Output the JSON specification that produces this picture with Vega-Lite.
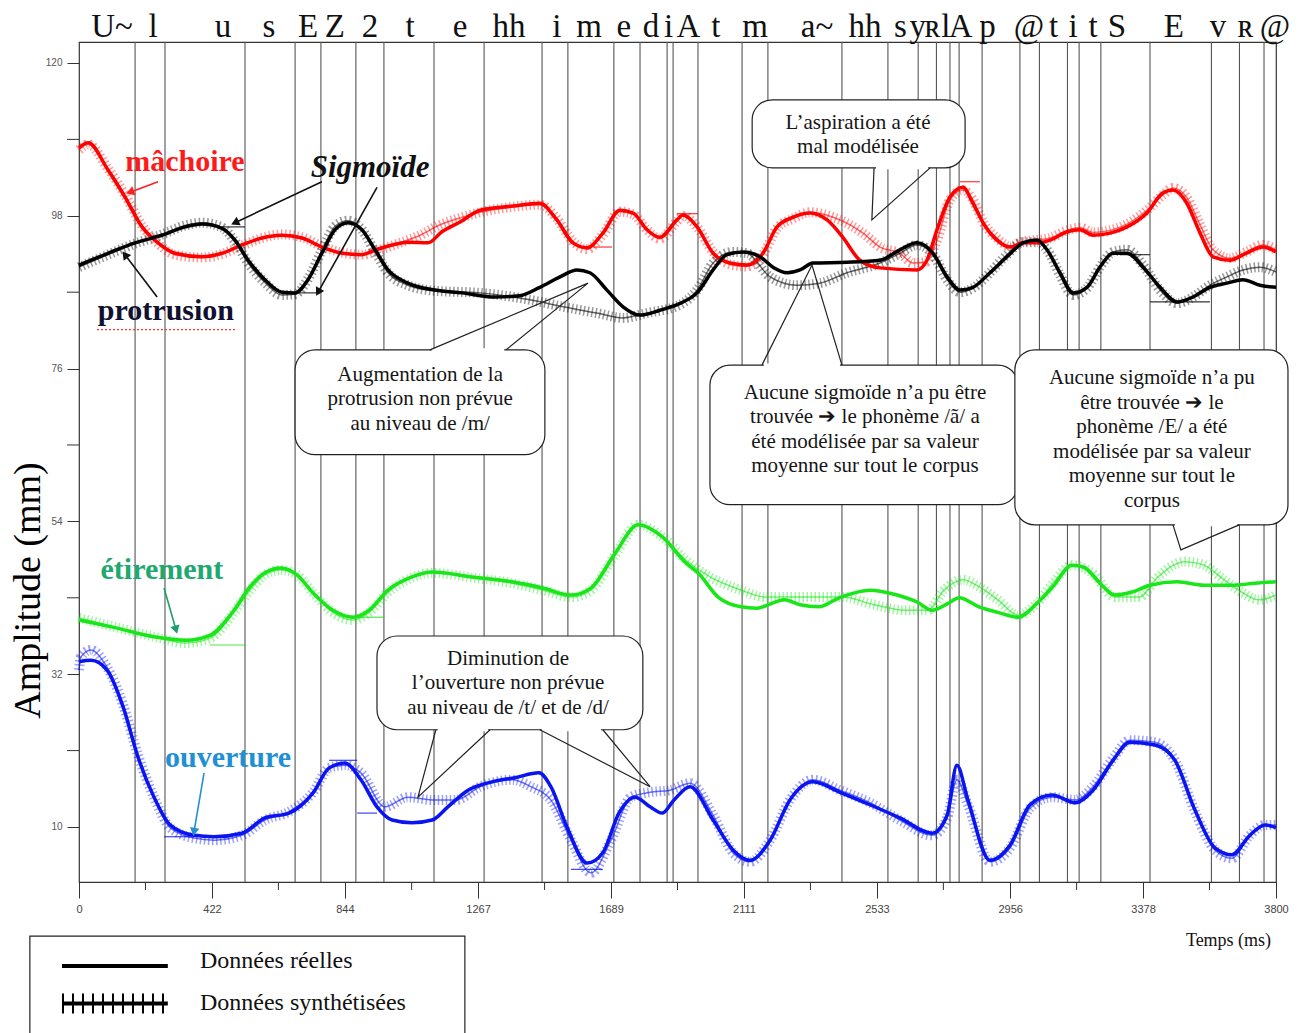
{
"$schema":"https://vega.github.io/schema/vega-lite/v6.json",
"width":1197,"height":840,
"autosize":{"type":"none"},
"padding":{"left":79,"top":42,"right":26,"bottom":151},
"background":"white",
"config":{"view":{"stroke":"#333","strokeWidth":1.2},"font":"Liberation Serif","axis":{"grid":false,"domain":false}},
"resolve":{"scale":{"color":"independent"}},
"datasets":{
"curves":[
{"s":"m","k":"r","t":0,"v":107.8},{"s":"m","k":"r","t":29,"v":108.5},{"s":"m","k":"r","t":92,"v":104.6},{"s":"m","k":"r","t":146,"v":100.7},{"s":"m","k":"r","t":200,"v":96.4},{"s":"m","k":"r","t":251,"v":94.1},{"s":"m","k":"r","t":305,"v":92.6},{"s":"m","k":"r","t":390,"v":92.1},{"s":"m","k":"r","t":454,"v":92.6},{"s":"m","k":"r","t":517,"v":93.8},{"s":"m","k":"r","t":581,"v":94.8},{"s":"m","k":"r","t":644,"v":95.2},{"s":"m","k":"r","t":708,"v":94.8},{"s":"m","k":"r","t":771,"v":93.5},{"s":"m","k":"r","t":835,"v":92.6},{"s":"m","k":"r","t":898,"v":92.4},{"s":"m","k":"r","t":940,"v":93.1},{"s":"m","k":"r","t":994,"v":93.8},{"s":"m","k":"r","t":1044,"v":94.2},{"s":"m","k":"r","t":1108,"v":94.1},{"s":"m","k":"r","t":1152,"v":95.7},{"s":"m","k":"r","t":1210,"v":97.1},{"s":"m","k":"r","t":1273,"v":98.8},{"s":"m","k":"r","t":1378,"v":99.4},{"s":"m","k":"r","t":1463,"v":99.8},{"s":"m","k":"r","t":1517,"v":97.4},{"s":"m","k":"r","t":1568,"v":94.1},{"s":"m","k":"r","t":1613,"v":93.4},{"s":"m","k":"r","t":1663,"v":95.5},{"s":"m","k":"r","t":1717,"v":98.8},{"s":"m","k":"r","t":1759,"v":98.4},{"s":"m","k":"r","t":1803,"v":96.0},{"s":"m","k":"r","t":1844,"v":94.9},{"s":"m","k":"r","t":1898,"v":97.4},{"s":"m","k":"r","t":1917,"v":98.1},{"s":"m","k":"r","t":1962,"v":96.4},{"s":"m","k":"r","t":2013,"v":92.6},{"s":"m","k":"r","t":2067,"v":91.2},{"s":"m","k":"r","t":2121,"v":90.9},{"s":"m","k":"r","t":2171,"v":92.6},{"s":"m","k":"r","t":2216,"v":96.4},{"s":"m","k":"r","t":2267,"v":97.8},{"s":"m","k":"r","t":2321,"v":98.4},{"s":"m","k":"r","t":2375,"v":97.4},{"s":"m","k":"r","t":2425,"v":94.9},{"s":"m","k":"r","t":2479,"v":91.6},{"s":"m","k":"r","t":2543,"v":90.5},{"s":"m","k":"r","t":2660,"v":90.2},{"s":"m","k":"r","t":2692,"v":91.6},{"s":"m","k":"r","t":2724,"v":96.0},{"s":"m","k":"r","t":2765,"v":100.7},{"s":"m","k":"r","t":2806,"v":102.1},{"s":"m","k":"r","t":2838,"v":99.8},{"s":"m","k":"r","t":2870,"v":97.0},{"s":"m","k":"r","t":2914,"v":94.5},{"s":"m","k":"r","t":2956,"v":93.5},{"s":"m","k":"r","t":2997,"v":94.1},{"s":"m","k":"r","t":3041,"v":94.1},{"s":"m","k":"r","t":3083,"v":94.5},{"s":"m","k":"r","t":3137,"v":95.7},{"s":"m","k":"r","t":3178,"v":96.0},{"s":"m","k":"r","t":3219,"v":95.2},{"s":"m","k":"r","t":3273,"v":95.5},{"s":"m","k":"r","t":3327,"v":96.4},{"s":"m","k":"r","t":3390,"v":98.4},{"s":"m","k":"r","t":3441,"v":101.3},{"s":"m","k":"r","t":3473,"v":101.7},{"s":"m","k":"r","t":3517,"v":99.8},{"s":"m","k":"r","t":3559,"v":95.5},{"s":"m","k":"r","t":3600,"v":92.1},{"s":"m","k":"r","t":3654,"v":91.6},{"s":"m","k":"r","t":3705,"v":92.6},{"s":"m","k":"r","t":3759,"v":93.5},{"s":"m","k":"r","t":3800,"v":92.8},
{"s":"m","k":"s","t":0,"v":107.5},{"s":"m","k":"s","t":29,"v":108.3},{"s":"m","k":"s","t":92,"v":104.8},{"s":"m","k":"s","t":146,"v":101.0},{"s":"m","k":"s","t":200,"v":96.6},{"s":"m","k":"s","t":251,"v":94.0},{"s":"m","k":"s","t":305,"v":92.4},{"s":"m","k":"s","t":390,"v":92.0},{"s":"m","k":"s","t":454,"v":92.5},{"s":"m","k":"s","t":517,"v":93.7},{"s":"m","k":"s","t":581,"v":94.8},{"s":"m","k":"s","t":644,"v":95.3},{"s":"m","k":"s","t":708,"v":94.9},{"s":"m","k":"s","t":771,"v":93.6},{"s":"m","k":"s","t":835,"v":92.7},{"s":"m","k":"s","t":898,"v":92.4},{"s":"m","k":"s","t":956,"v":93.1},{"s":"m","k":"s","t":1019,"v":94.1},{"s":"m","k":"s","t":1083,"v":95.2},{"s":"m","k":"s","t":1146,"v":96.7},{"s":"m","k":"s","t":1210,"v":97.7},{"s":"m","k":"s","t":1273,"v":98.5},{"s":"m","k":"s","t":1378,"v":99.3},{"s":"m","k":"s","t":1463,"v":99.6},{"s":"m","k":"s","t":1517,"v":97.6},{"s":"m","k":"s","t":1568,"v":94.3},{"s":"m","k":"s","t":1613,"v":93.2},{"s":"m","k":"s","t":1663,"v":95.3},{"s":"m","k":"s","t":1717,"v":98.6},{"s":"m","k":"s","t":1759,"v":98.2},{"s":"m","k":"s","t":1803,"v":96.0},{"s":"m","k":"s","t":1844,"v":94.7},{"s":"m","k":"s","t":1898,"v":97.2},{"s":"m","k":"s","t":1917,"v":98.0},{"s":"m","k":"s","t":1962,"v":96.4},{"s":"m","k":"s","t":2013,"v":92.8},{"s":"m","k":"s","t":2067,"v":91.0},{"s":"m","k":"s","t":2121,"v":90.7},{"s":"m","k":"s","t":2171,"v":92.4},{"s":"m","k":"s","t":2216,"v":96.2},{"s":"m","k":"s","t":2267,"v":97.6},{"s":"m","k":"s","t":2321,"v":98.5},{"s":"m","k":"s","t":2394,"v":97.8},{"s":"m","k":"s","t":2448,"v":96.7},{"s":"m","k":"s","t":2489,"v":95.5},{"s":"m","k":"s","t":2543,"v":93.5},{"s":"m","k":"s","t":2606,"v":92.6},{"s":"m","k":"s","t":2648,"v":91.2},{"s":"m","k":"s","t":2686,"v":91.3},{"s":"m","k":"s","t":2724,"v":94.5},{"s":"m","k":"s","t":2765,"v":100.3},{"s":"m","k":"s","t":2806,"v":101.7},{"s":"m","k":"s","t":2838,"v":100.3},{"s":"m","k":"s","t":2870,"v":97.1},{"s":"m","k":"s","t":2914,"v":94.8},{"s":"m","k":"s","t":2956,"v":93.6},{"s":"m","k":"s","t":2997,"v":94.3},{"s":"m","k":"s","t":3041,"v":94.5},{"s":"m","k":"s","t":3083,"v":94.8},{"s":"m","k":"s","t":3137,"v":95.9},{"s":"m","k":"s","t":3178,"v":96.3},{"s":"m","k":"s","t":3219,"v":95.6},{"s":"m","k":"s","t":3273,"v":95.9},{"s":"m","k":"s","t":3327,"v":96.8},{"s":"m","k":"s","t":3390,"v":98.8},{"s":"m","k":"s","t":3441,"v":101.0},{"s":"m","k":"s","t":3473,"v":102.0},{"s":"m","k":"s","t":3517,"v":100.6},{"s":"m","k":"s","t":3559,"v":96.7},{"s":"m","k":"s","t":3600,"v":93.1},{"s":"m","k":"s","t":3654,"v":91.9},{"s":"m","k":"s","t":3705,"v":92.8},{"s":"m","k":"s","t":3759,"v":93.8},{"s":"m","k":"s","t":3800,"v":93.1},
{"s":"p","k":"r","t":0,"v":90.9},{"s":"p","k":"r","t":92,"v":92.6},{"s":"p","k":"r","t":178,"v":94.1},{"s":"p","k":"r","t":263,"v":95.2},{"s":"p","k":"r","t":337,"v":96.4},{"s":"p","k":"r","t":390,"v":96.8},{"s":"p","k":"r","t":454,"v":96.2},{"s":"p","k":"r","t":495,"v":94.5},{"s":"p","k":"r","t":537,"v":91.6},{"s":"p","k":"r","t":590,"v":88.8},{"s":"p","k":"r","t":644,"v":87.0},{"s":"p","k":"r","t":686,"v":86.9},{"s":"p","k":"r","t":727,"v":88.8},{"s":"p","k":"r","t":771,"v":92.6},{"s":"p","k":"r","t":813,"v":96.0},{"s":"p","k":"r","t":854,"v":97.0},{"s":"p","k":"r","t":898,"v":96.0},{"s":"p","k":"r","t":940,"v":93.1},{"s":"p","k":"r","t":981,"v":90.2},{"s":"p","k":"r","t":1044,"v":88.3},{"s":"p","k":"r","t":1130,"v":87.3},{"s":"p","k":"r","t":1216,"v":86.9},{"s":"p","k":"r","t":1321,"v":86.3},{"s":"p","k":"r","t":1400,"v":86.5},{"s":"p","k":"r","t":1463,"v":87.7},{"s":"p","k":"r","t":1527,"v":89.2},{"s":"p","k":"r","t":1581,"v":90.2},{"s":"p","k":"r","t":1622,"v":89.8},{"s":"p","k":"r","t":1676,"v":87.3},{"s":"p","k":"r","t":1727,"v":84.9},{"s":"p","k":"r","t":1781,"v":83.7},{"s":"p","k":"r","t":1844,"v":84.4},{"s":"p","k":"r","t":1908,"v":85.4},{"s":"p","k":"r","t":1962,"v":86.9},{"s":"p","k":"r","t":2013,"v":90.2},{"s":"p","k":"r","t":2057,"v":92.4},{"s":"p","k":"r","t":2108,"v":92.8},{"s":"p","k":"r","t":2162,"v":92.1},{"s":"p","k":"r","t":2203,"v":90.6},{"s":"p","k":"r","t":2248,"v":89.8},{"s":"p","k":"r","t":2289,"v":90.2},{"s":"p","k":"r","t":2330,"v":91.2},{"s":"p","k":"r","t":2438,"v":91.3},{"s":"p","k":"r","t":2543,"v":91.6},{"s":"p","k":"r","t":2606,"v":93.1},{"s":"p","k":"r","t":2660,"v":94.1},{"s":"p","k":"r","t":2711,"v":92.6},{"s":"p","k":"r","t":2756,"v":89.2},{"s":"p","k":"r","t":2797,"v":87.3},{"s":"p","k":"r","t":2838,"v":87.7},{"s":"p","k":"r","t":2892,"v":89.8},{"s":"p","k":"r","t":2946,"v":92.1},{"s":"p","k":"r","t":2997,"v":94.1},{"s":"p","k":"r","t":3041,"v":94.5},{"s":"p","k":"r","t":3073,"v":93.1},{"s":"p","k":"r","t":3114,"v":89.8},{"s":"p","k":"r","t":3156,"v":86.9},{"s":"p","k":"r","t":3200,"v":87.7},{"s":"p","k":"r","t":3241,"v":90.6},{"s":"p","k":"r","t":3283,"v":92.6},{"s":"p","k":"r","t":3327,"v":92.6},{"s":"p","k":"r","t":3378,"v":90.6},{"s":"p","k":"r","t":3432,"v":87.7},{"s":"p","k":"r","t":3486,"v":85.6},{"s":"p","k":"r","t":3536,"v":86.3},{"s":"p","k":"r","t":3590,"v":87.7},{"s":"p","k":"r","t":3644,"v":88.3},{"s":"p","k":"r","t":3695,"v":88.8},{"s":"p","k":"r","t":3749,"v":88.0},{"s":"p","k":"r","t":3800,"v":87.7},
{"s":"p","k":"s","t":0,"v":90.6},{"s":"p","k":"s","t":92,"v":92.4},{"s":"p","k":"s","t":178,"v":94.0},{"s":"p","k":"s","t":263,"v":95.3},{"s":"p","k":"s","t":337,"v":96.6},{"s":"p","k":"s","t":390,"v":97.0},{"s":"p","k":"s","t":454,"v":96.3},{"s":"p","k":"s","t":495,"v":94.3},{"s":"p","k":"s","t":537,"v":91.2},{"s":"p","k":"s","t":590,"v":88.4},{"s":"p","k":"s","t":644,"v":86.6},{"s":"p","k":"s","t":686,"v":86.7},{"s":"p","k":"s","t":727,"v":88.9},{"s":"p","k":"s","t":771,"v":93.0},{"s":"p","k":"s","t":813,"v":96.5},{"s":"p","k":"s","t":854,"v":97.3},{"s":"p","k":"s","t":898,"v":96.0},{"s":"p","k":"s","t":940,"v":92.8},{"s":"p","k":"s","t":981,"v":89.8},{"s":"p","k":"s","t":1044,"v":88.0},{"s":"p","k":"s","t":1130,"v":87.2},{"s":"p","k":"s","t":1273,"v":86.9},{"s":"p","k":"s","t":1432,"v":85.9},{"s":"p","k":"s","t":1537,"v":84.9},{"s":"p","k":"s","t":1644,"v":84.0},{"s":"p","k":"s","t":1727,"v":83.3},{"s":"p","k":"s","t":1803,"v":84.0},{"s":"p","k":"s","t":1908,"v":85.2},{"s":"p","k":"s","t":1962,"v":87.3},{"s":"p","k":"s","t":2013,"v":91.2},{"s":"p","k":"s","t":2076,"v":92.8},{"s":"p","k":"s","t":2121,"v":92.6},{"s":"p","k":"s","t":2194,"v":89.2},{"s":"p","k":"s","t":2279,"v":88.0},{"s":"p","k":"s","t":2352,"v":88.3},{"s":"p","k":"s","t":2438,"v":89.8},{"s":"p","k":"s","t":2543,"v":91.2},{"s":"p","k":"s","t":2606,"v":92.6},{"s":"p","k":"s","t":2660,"v":93.8},{"s":"p","k":"s","t":2711,"v":92.4},{"s":"p","k":"s","t":2756,"v":88.8},{"s":"p","k":"s","t":2797,"v":87.0},{"s":"p","k":"s","t":2838,"v":87.6},{"s":"p","k":"s","t":2892,"v":89.8},{"s":"p","k":"s","t":2946,"v":92.4},{"s":"p","k":"s","t":2997,"v":94.2},{"s":"p","k":"s","t":3041,"v":94.2},{"s":"p","k":"s","t":3083,"v":92.4},{"s":"p","k":"s","t":3114,"v":89.5},{"s":"p","k":"s","t":3156,"v":86.6},{"s":"p","k":"s","t":3200,"v":87.6},{"s":"p","k":"s","t":3241,"v":90.6},{"s":"p","k":"s","t":3283,"v":92.8},{"s":"p","k":"s","t":3327,"v":93.1},{"s":"p","k":"s","t":3378,"v":90.9},{"s":"p","k":"s","t":3432,"v":87.3},{"s":"p","k":"s","t":3486,"v":85.4},{"s":"p","k":"s","t":3536,"v":86.3},{"s":"p","k":"s","t":3590,"v":88.0},{"s":"p","k":"s","t":3644,"v":89.2},{"s":"p","k":"s","t":3695,"v":90.2},{"s":"p","k":"s","t":3749,"v":90.6},{"s":"p","k":"s","t":3800,"v":89.9},
{"s":"e","k":"r","t":0,"v":39.8},{"s":"e","k":"r","t":114,"v":38.7},{"s":"e","k":"r","t":238,"v":37.4},{"s":"e","k":"r","t":340,"v":36.9},{"s":"e","k":"r","t":416,"v":37.6},{"s":"e","k":"r","t":492,"v":41.2},{"s":"e","k":"r","t":543,"v":44.6},{"s":"e","k":"r","t":590,"v":46.6},{"s":"e","k":"r","t":641,"v":47.3},{"s":"e","k":"r","t":692,"v":46.3},{"s":"e","k":"r","t":743,"v":43.7},{"s":"e","k":"r","t":806,"v":41.2},{"s":"e","k":"r","t":870,"v":40.2},{"s":"e","k":"r","t":921,"v":41.2},{"s":"e","k":"r","t":981,"v":44.1},{"s":"e","k":"r","t":1057,"v":46.0},{"s":"e","k":"r","t":1121,"v":46.7},{"s":"e","k":"r","t":1248,"v":46.0},{"s":"e","k":"r","t":1375,"v":45.3},{"s":"e","k":"r","t":1473,"v":44.4},{"s":"e","k":"r","t":1562,"v":43.4},{"s":"e","k":"r","t":1625,"v":44.4},{"s":"e","k":"r","t":1702,"v":49.4},{"s":"e","k":"r","t":1775,"v":53.5},{"s":"e","k":"r","t":1851,"v":51.8},{"s":"e","k":"r","t":1927,"v":48.0},{"s":"e","k":"r","t":1965,"v":46.6},{"s":"e","k":"r","t":2029,"v":43.1},{"s":"e","k":"r","t":2102,"v":41.7},{"s":"e","k":"r","t":2152,"v":41.5},{"s":"e","k":"r","t":2200,"v":42.2},{"s":"e","k":"r","t":2238,"v":42.7},{"s":"e","k":"r","t":2289,"v":42.0},{"s":"e","k":"r","t":2349,"v":41.7},{"s":"e","k":"r","t":2413,"v":43.0},{"s":"e","k":"r","t":2511,"v":44.1},{"s":"e","k":"r","t":2597,"v":43.4},{"s":"e","k":"r","t":2660,"v":42.4},{"s":"e","k":"r","t":2708,"v":41.2},{"s":"e","k":"r","t":2759,"v":42.2},{"s":"e","k":"r","t":2794,"v":43.0},{"s":"e","k":"r","t":2857,"v":41.7},{"s":"e","k":"r","t":2917,"v":40.9},{"s":"e","k":"r","t":2981,"v":40.2},{"s":"e","k":"r","t":3041,"v":42.2},{"s":"e","k":"r","t":3092,"v":44.6},{"s":"e","k":"r","t":3152,"v":47.7},{"s":"e","k":"r","t":3190,"v":47.4},{"s":"e","k":"r","t":3241,"v":45.1},{"s":"e","k":"r","t":3289,"v":43.4},{"s":"e","k":"r","t":3340,"v":43.8},{"s":"e","k":"r","t":3400,"v":44.8},{"s":"e","k":"r","t":3486,"v":45.3},{"s":"e","k":"r","t":3571,"v":44.8},{"s":"e","k":"r","t":3660,"v":44.8},{"s":"e","k":"r","t":3733,"v":45.1},{"s":"e","k":"r","t":3800,"v":45.3},
{"s":"e","k":"s","t":0,"v":40.1},{"s":"e","k":"s","t":114,"v":38.8},{"s":"e","k":"s","t":238,"v":37.4},{"s":"e","k":"s","t":340,"v":36.5},{"s":"e","k":"s","t":416,"v":37.2},{"s":"e","k":"s","t":492,"v":40.9},{"s":"e","k":"s","t":543,"v":44.1},{"s":"e","k":"s","t":590,"v":46.3},{"s":"e","k":"s","t":641,"v":47.0},{"s":"e","k":"s","t":692,"v":46.3},{"s":"e","k":"s","t":743,"v":43.7},{"s":"e","k":"s","t":806,"v":40.9},{"s":"e","k":"s","t":870,"v":39.8},{"s":"e","k":"s","t":921,"v":40.9},{"s":"e","k":"s","t":981,"v":43.8},{"s":"e","k":"s","t":1057,"v":45.9},{"s":"e","k":"s","t":1121,"v":46.6},{"s":"e","k":"s","t":1248,"v":45.9},{"s":"e","k":"s","t":1375,"v":45.1},{"s":"e","k":"s","t":1473,"v":44.1},{"s":"e","k":"s","t":1562,"v":43.1},{"s":"e","k":"s","t":1625,"v":44.1},{"s":"e","k":"s","t":1702,"v":49.2},{"s":"e","k":"s","t":1775,"v":53.5},{"s":"e","k":"s","t":1851,"v":51.8},{"s":"e","k":"s","t":1927,"v":48.4},{"s":"e","k":"s","t":2003,"v":46.0},{"s":"e","k":"s","t":2102,"v":44.1},{"s":"e","k":"s","t":2178,"v":43.1},{"s":"e","k":"s","t":2276,"v":43.1},{"s":"e","k":"s","t":2375,"v":43.1},{"s":"e","k":"s","t":2425,"v":43.1},{"s":"e","k":"s","t":2524,"v":42.0},{"s":"e","k":"s","t":2622,"v":41.2},{"s":"e","k":"s","t":2695,"v":41.2},{"s":"e","k":"s","t":2746,"v":44.1},{"s":"e","k":"s","t":2806,"v":45.6},{"s":"e","k":"s","t":2857,"v":44.6},{"s":"e","k":"s","t":2917,"v":42.7},{"s":"e","k":"s","t":2981,"v":40.5},{"s":"e","k":"s","t":3041,"v":42.2},{"s":"e","k":"s","t":3092,"v":45.1},{"s":"e","k":"s","t":3152,"v":47.7},{"s":"e","k":"s","t":3216,"v":46.6},{"s":"e","k":"s","t":3289,"v":43.1},{"s":"e","k":"s","t":3365,"v":43.1},{"s":"e","k":"s","t":3425,"v":46.0},{"s":"e","k":"s","t":3511,"v":48.2},{"s":"e","k":"s","t":3571,"v":47.7},{"s":"e","k":"s","t":3635,"v":45.6},{"s":"e","k":"s","t":3695,"v":43.7},{"s":"e","k":"s","t":3746,"v":42.7},{"s":"e","k":"s","t":3800,"v":43.4},
{"s":"o","k":"r","t":0,"v":33.8},{"s":"o","k":"r","t":38,"v":34.0},{"s":"o","k":"r","t":89,"v":32.6},{"s":"o","k":"r","t":140,"v":27.3},{"s":"o","k":"r","t":187,"v":20.1},{"s":"o","k":"r","t":238,"v":14.3},{"s":"o","k":"r","t":289,"v":10.3},{"s":"o","k":"r","t":365,"v":8.8},{"s":"o","k":"r","t":429,"v":8.6},{"s":"o","k":"r","t":517,"v":9.1},{"s":"o","k":"r","t":590,"v":11.3},{"s":"o","k":"r","t":667,"v":12.0},{"s":"o","k":"r","t":743,"v":14.9},{"s":"o","k":"r","t":794,"v":18.5},{"s":"o","k":"r","t":844,"v":19.2},{"s":"o","k":"r","t":895,"v":16.8},{"s":"o","k":"r","t":946,"v":12.9},{"s":"o","k":"r","t":994,"v":11.0},{"s":"o","k":"r","t":1057,"v":10.6},{"s":"o","k":"r","t":1121,"v":11.0},{"s":"o","k":"r","t":1171,"v":12.9},{"s":"o","k":"r","t":1235,"v":15.3},{"s":"o","k":"r","t":1311,"v":16.5},{"s":"o","k":"r","t":1384,"v":17.1},{"s":"o","k":"r","t":1460,"v":17.8},{"s":"o","k":"r","t":1498,"v":15.8},{"s":"o","k":"r","t":1549,"v":10.0},{"s":"o","k":"r","t":1613,"v":4.8},{"s":"o","k":"r","t":1663,"v":6.3},{"s":"o","k":"r","t":1714,"v":12.0},{"s":"o","k":"r","t":1765,"v":14.3},{"s":"o","k":"r","t":1813,"v":12.9},{"s":"o","k":"r","t":1851,"v":12.0},{"s":"o","k":"r","t":1889,"v":13.9},{"s":"o","k":"r","t":1940,"v":15.8},{"s":"o","k":"r","t":2013,"v":11.0},{"s":"o","k":"r","t":2076,"v":6.7},{"s":"o","k":"r","t":2130,"v":5.2},{"s":"o","k":"r","t":2194,"v":8.1},{"s":"o","k":"r","t":2257,"v":13.9},{"s":"o","k":"r","t":2330,"v":16.5},{"s":"o","k":"r","t":2416,"v":15.0},{"s":"o","k":"r","t":2511,"v":13.2},{"s":"o","k":"r","t":2606,"v":11.3},{"s":"o","k":"r","t":2708,"v":9.1},{"s":"o","k":"r","t":2756,"v":11.7},{"s":"o","k":"r","t":2787,"v":18.9},{"s":"o","k":"r","t":2822,"v":13.9},{"s":"o","k":"r","t":2892,"v":5.2},{"s":"o","k":"r","t":2956,"v":7.4},{"s":"o","k":"r","t":3019,"v":13.2},{"s":"o","k":"r","t":3089,"v":14.6},{"s":"o","k":"r","t":3162,"v":13.5},{"s":"o","k":"r","t":3219,"v":15.3},{"s":"o","k":"r","t":3283,"v":19.6},{"s":"o","k":"r","t":3336,"v":22.2},{"s":"o","k":"r","t":3416,"v":21.8},{"s":"o","k":"r","t":3479,"v":19.6},{"s":"o","k":"r","t":3543,"v":12.4},{"s":"o","k":"r","t":3606,"v":7.0},{"s":"o","k":"r","t":3660,"v":6.0},{"s":"o","k":"r","t":3717,"v":8.8},{"s":"o","k":"r","t":3765,"v":10.3},{"s":"o","k":"r","t":3800,"v":9.9},
{"s":"o","k":"s","t":0,"v":32.6},{"s":"o","k":"s","t":6,"v":34.5},{"s":"o","k":"s","t":38,"v":35.5},{"s":"o","k":"s","t":89,"v":33.0},{"s":"o","k":"s","t":140,"v":27.6},{"s":"o","k":"s","t":187,"v":20.4},{"s":"o","k":"s","t":238,"v":14.3},{"s":"o","k":"s","t":289,"v":9.9},{"s":"o","k":"s","t":365,"v":8.4},{"s":"o","k":"s","t":429,"v":8.1},{"s":"o","k":"s","t":517,"v":8.8},{"s":"o","k":"s","t":590,"v":11.0},{"s":"o","k":"s","t":667,"v":12.2},{"s":"o","k":"s","t":743,"v":15.0},{"s":"o","k":"s","t":794,"v":18.5},{"s":"o","k":"s","t":844,"v":18.9},{"s":"o","k":"s","t":895,"v":17.8},{"s":"o","k":"s","t":971,"v":12.9},{"s":"o","k":"s","t":1044,"v":14.3},{"s":"o","k":"s","t":1121,"v":13.9},{"s":"o","k":"s","t":1197,"v":13.9},{"s":"o","k":"s","t":1273,"v":15.8},{"s":"o","k":"s","t":1375,"v":16.8},{"s":"o","k":"s","t":1435,"v":15.8},{"s":"o","k":"s","t":1498,"v":13.9},{"s":"o","k":"s","t":1562,"v":8.1},{"s":"o","k":"s","t":1625,"v":3.4},{"s":"o","k":"s","t":1689,"v":8.1},{"s":"o","k":"s","t":1752,"v":14.3},{"s":"o","k":"s","t":1813,"v":15.0},{"s":"o","k":"s","t":1876,"v":15.3},{"s":"o","k":"s","t":1940,"v":16.3},{"s":"o","k":"s","t":2013,"v":11.7},{"s":"o","k":"s","t":2076,"v":6.3},{"s":"o","k":"s","t":2130,"v":5.0},{"s":"o","k":"s","t":2194,"v":8.1},{"s":"o","k":"s","t":2257,"v":13.9},{"s":"o","k":"s","t":2330,"v":16.8},{"s":"o","k":"s","t":2416,"v":15.3},{"s":"o","k":"s","t":2511,"v":13.5},{"s":"o","k":"s","t":2606,"v":11.0},{"s":"o","k":"s","t":2708,"v":8.8},{"s":"o","k":"s","t":2756,"v":11.3},{"s":"o","k":"s","t":2787,"v":16.8},{"s":"o","k":"s","t":2822,"v":13.2},{"s":"o","k":"s","t":2892,"v":5.0},{"s":"o","k":"s","t":2956,"v":7.0},{"s":"o","k":"s","t":3019,"v":12.7},{"s":"o","k":"s","t":3089,"v":14.3},{"s":"o","k":"s","t":3162,"v":13.9},{"s":"o","k":"s","t":3219,"v":15.8},{"s":"o","k":"s","t":3283,"v":19.9},{"s":"o","k":"s","t":3336,"v":22.5},{"s":"o","k":"s","t":3416,"v":22.2},{"s":"o","k":"s","t":3479,"v":19.6},{"s":"o","k":"s","t":3543,"v":12.2},{"s":"o","k":"s","t":3606,"v":6.7},{"s":"o","k":"s","t":3660,"v":5.5},{"s":"o","k":"s","t":3717,"v":8.8},{"s":"o","k":"s","t":3765,"v":10.3},{"s":"o","k":"s","t":3800,"v":10.3}
],
"targets":[{"s":"p","t":454,"t2":527,"v":96.4},{"s":"p","t":695,"t2":765,"v":86.9},{"s":"p","t":3305,"t2":3400,"v":92.4},{"s":"p","t":3400,"t2":3590,"v":85.6},{"s":"e","t":416,"t2":530,"v":36.2},{"s":"e","t":870,"t2":971,"v":40.2},{"s":"m","t":1632,"t2":1692,"v":93.5},{"s":"m","t":1898,"t2":1965,"v":98.3},{"s":"m","t":2797,"t2":2860,"v":102.9},{"s":"o","t":794,"t2":883,"v":19.6},{"s":"o","t":883,"t2":946,"v":12.0},{"s":"o","t":1562,"t2":1663,"v":3.9},{"s":"o","t":270,"t2":365,"v":8.6}],
"bounds":[{"t":178},{"t":273},{"t":527},{"t":686},{"t":768},{"t":879},{"t":968},{"t":1127},{"t":1286},{"t":1470},{"t":1552},{"t":1698},{"t":1781},{"t":1867},{"t":1886},{"t":1965},{"t":2105},{"t":2187},{"t":2422},{"t":2568},{"t":2664},{"t":2722},{"t":2765},{"t":2794},{"t":2867},{"t":2987},{"t":3049},{"t":3138},{"t":3175},{"t":3244},{"t":3400},{"t":3595},{"t":3684},{"t":3762}],
"phon":[{"t":105,"text":"U~"},{"t":235,"text":"l"},{"t":457,"text":"u"},{"t":603,"text":"s"},{"t":727,"text":"E"},{"t":812,"text":"Z"},{"t":924,"text":"2"},{"t":1051,"text":"t"},{"t":1210,"text":"e"},{"t":1365,"text":"hh"},{"t":1517,"text":"i"},{"t":1619,"text":"m"},{"t":1730,"text":"e"},{"t":1816,"text":"d"},{"t":1872,"text":"i"},{"t":1935,"text":"A"},{"t":2022,"text":"t"},{"t":2146,"text":"m"},{"t":2343,"text":"a~"},{"t":2495,"text":"hh"},{"t":2608,"text":"s"},{"t":2663,"text":"y"},{"t":2710,"text":"ʀ"},{"t":2752,"text":"l"},{"t":2799,"text":"A"},{"t":2884,"text":"p"},{"t":3016,"text":"@"},{"t":3094,"text":"t"},{"t":3156,"text":"i"},{"t":3219,"text":"t"},{"t":3295,"text":"S"},{"t":3476,"text":"E"},{"t":3616,"text":"v"},{"t":3703,"text":"ʀ"},{"t":3797,"text":"@"}],
"xminor":[{"t":211},{"t":633},{"t":1056},{"t":1478},{"t":1900},{"t":2322},{"t":2744},{"t":3167},{"t":3589}],
"yminor":[{"v":21},{"v":43},{"v":65},{"v":87},{"v":109}],
"labels":[{"id":"mach","t":336,"v":105.7,"text":"mâchoire"},{"id":"sig","t":924,"v":104.9,"text":"Sigmoïde"},{"id":"prot","t":276,"v":84.3,"text":"protrusion"},{"id":"etir","t":263,"v":47.0,"text":"étirement"},{"id":"ouv","t":473,"v":19.9,"text":"ouverture"}],
"arrows":[{"id":"mach","t":251,"v":102.9,"t2":162,"v2":101.4,"a":-110},{"id":"sig1","t":771,"v":102.9,"t2":495,"v2":97.0,"a":-115},{"id":"sig2","t":946,"v":102.1,"t2":759,"v2":87.0,"a":-151},{"id":"prot","t":248,"v":86.3,"t2":146,"v2":92.4,"a":-37},{"id":"etir","t":270,"v":44.4,"t2":308,"v2":38.4,"a":164},{"id":"ouv","t":397,"v":17.8,"t2":365,"v2":9.3,"a":-170}],
"uline":[{"t":57,"t2":502,"v":81.6}],
"bubbles":[{"id":"b1","t":2137,"t2":2813,"v":114.7,"v2":104.9},{"id":"b2","t":686,"t2":1479,"v":78.7,"v2":63.6},{"id":"b3","t":2003,"t2":2981,"v":76.5,"v2":56.4},{"id":"b4","t":2971,"t2":3838,"v":78.7,"v2":53.5},{"id":"b5","t":946,"t2":1790,"v":37.5,"v2":24.0}],
"gaps":[{"t":2530,"t2":2696,"v":104.9},{"t":1120,"t2":1350,"v":78.7},{"t":2174,"t2":2416,"v":76.5},{"t":3479,"t2":3677,"v":53.5},{"t":1139,"t2":1299,"v":24.0},{"t":1469,"t2":1657,"v":24.0}],
"tails":[{"id":"b1","o":0,"t":2524,"v":104.9},{"id":"b1","o":1,"t":2517,"v":97.4},{"id":"b1","o":2,"t":2702,"v":104.9},
{"id":"b2","o":0,"t":1114,"v":78.7},{"id":"b2","o":1,"t":1616,"v":88.3},{"id":"b2","o":2,"t":1356,"v":78.7},
{"id":"b3","o":0,"t":2168,"v":76.5},{"id":"b3","o":1,"t":2327,"v":90.9},{"id":"b3","o":2,"t":2422,"v":76.5},
{"id":"b4","o":0,"t":3473,"v":53.5},{"id":"b4","o":1,"t":3498,"v":49.9},{"id":"b4","o":2,"t":3683,"v":53.5},
{"id":"b5a","o":0,"t":1133,"v":24.0},{"id":"b5a","o":1,"t":1076,"v":14.3},{"id":"b5a","o":2,"t":1305,"v":24.0},
{"id":"b5b","o":0,"t":1463,"v":24.0},{"id":"b5b","o":1,"t":1813,"v":15.8},{"id":"b5b","o":2,"t":1663,"v":24.0}],
"btext":[{"t":2473,"v":111.4,"text":"L’aspiration a été\nmal modélisée"},{"t":1083,"v":75.1,"text":"Augmentation de la\nprotrusion non prévue\nau niveau de /m/"},{"t":2495,"v":72.5,"text":"Aucune sigmoïde n’a pu être\ntrouvée ➔ le phonème /ã/ a\nété modélisée par sa valeur\nmoyenne sur tout le corpus"},{"t":3406,"v":74.6,"text":"Aucune sigmoïde n’a pu\nêtre trouvée ➔ le\nphonème /E/ a été\nmodélisée par sa valeur\nmoyenne sur tout le\ncorpus"},{"t":1362,"v":34.2,"text":"Diminution de\nl’ouverture non prévue\nau niveau de /t/ et de /d/"}],
"legendbox":[{"t":-156,"t2":1225,"v":-5.7,"v2":-22}],
"legendlines":[{"id":"r","t":-54,"t2":282,"v":-10.0},{"id":"s","t":-54,"t2":282,"v":-15.4}],
"legendtext":[{"t":384,"v":-9.3,"text":"Données réelles"},{"t":384,"v":-15.4,"text":"Données synthétisées"}]
},
"layer":[
{"data":{"name":"curves"},"mark":{"type":"line","opacity":0},
 "encoding":{"x":{"field":"t","type":"quantitative","scale":{"domain":[0,3800],"nice":false,"zero":false},
   "axis":{"values":[0,422,844,1267,1689,2111,2533,2956,3378,3800],"format":"d","tickSize":16,"tickColor":"#333","tickWidth":1,"labelFont":"Liberation Sans","labelFontSize":11,"labelColor":"#444","labelPadding":5,"labelFlush":false,"domain":false,"grid":false,"title":"Temps (ms)","titleFont":"Liberation Serif","titleFontSize":18,"titleFontWeight":"normal","titleColor":"#111","titleX":1149,"titleY":58,"titleAlign":"center","titleBaseline":"middle"}},
 "y":{"field":"v","type":"quantitative","scale":{"domain":[2.08,123.02],"nice":false,"zero":false},
   "axis":{"values":[10,32,54,76,98,120],"tickSize":12,"tickColor":"#333","tickWidth":1,"labelFont":"Liberation Sans","labelFontSize":10,"labelColor":"#555","labelPadding":5,"labelFlush":false,"domain":false,"grid":false,"title":"Amplitude (mm)","titleFont":"Liberation Serif","titleFontSize":38,"titleFontWeight":"normal","titleColor":"#000","titleX":-51,"titleY":548,"titleAngle":-90,"titleAlign":"center","titleBaseline":"middle"}},
 "detail":{"field":"s"}}},
{"data":{"name":"bounds"},"mark":{"type":"rule","color":"#555","strokeWidth":1.1},
 "encoding":{"x":{"field":"t","type":"quantitative","scale":{"domain":[0,3800],"nice":false,"zero":false}},
 "y":{"datum":2.08,"type":"quantitative","scale":{"domain":[2.08,123.02],"nice":false,"zero":false}},"y2":{"datum":123.02}}},
{"data":{"name":"xminor"},"mark":{"type":"rule","color":"#333","strokeWidth":1},
 "encoding":{"x":{"field":"t","type":"quantitative","scale":{"domain":[0,3800],"nice":false,"zero":false}},
 "y":{"datum":2.08,"type":"quantitative","scale":{"domain":[2.08,123.02],"nice":false,"zero":false}},"y2":{"datum":0.93}}},
{"data":{"name":"yminor"},"mark":{"type":"rule","color":"#333","strokeWidth":1},
 "encoding":{"y":{"field":"v","type":"quantitative","scale":{"domain":[2.08,123.02],"nice":false,"zero":false}},
 "x":{"datum":0,"type":"quantitative","scale":{"domain":[0,3800],"nice":false,"zero":false}},"x2":{"datum":-38}}},
{"data":{"name":"curves"},"transform":[{"filter":"datum.k==='s'"}],
 "mark":{"type":"line","strokeWidth":10,"strokeDash":[1.5,2.5],"strokeCap":"butt","opacity":0.4,"interpolate":"monotone"},
 "encoding":{"x":{"field":"t","type":"quantitative","scale":{"domain":[0,3800],"nice":false,"zero":false}},
 "y":{"field":"v","type":"quantitative","scale":{"domain":[2.08,123.02],"nice":false,"zero":false}},
 "color":{"field":"s","type":"nominal","scale":{"domain":["m","p","e","o"],"range":["#ff0000","#000000","#19e619","#0a14f0"]},"legend":null}}},
{"data":{"name":"curves"},"transform":[{"filter":"datum.k==='s'"}],
 "mark":{"type":"line","strokeWidth":1.5,"opacity":0.6,"interpolate":"monotone"},
 "encoding":{"x":{"field":"t","type":"quantitative","scale":{"domain":[0,3800],"nice":false,"zero":false}},
 "y":{"field":"v","type":"quantitative","scale":{"domain":[2.08,123.02],"nice":false,"zero":false}},
 "color":{"field":"s","type":"nominal","scale":{"domain":["m","p","e","o"],"range":["#ff0000","#000000","#19e619","#0a14f0"]},"legend":null}}},
{"data":{"name":"targets"},"mark":{"type":"rule","strokeWidth":1.2,"opacity":0.8},
 "encoding":{"x":{"field":"t","type":"quantitative","scale":{"domain":[0,3800],"nice":false,"zero":false}},"x2":{"field":"t2"},
 "y":{"field":"v","type":"quantitative","scale":{"domain":[2.08,123.02],"nice":false,"zero":false}},
 "color":{"field":"s","type":"nominal","scale":{"domain":["m","p","e","o"],"range":["#ff0000","#000000","#19e619","#0a14f0"]},"legend":null}}},
{"data":{"name":"curves"},"transform":[{"filter":"datum.k==='r'"}],
 "mark":{"type":"line","strokeWidth":3.5,"interpolate":"monotone"},
 "encoding":{"x":{"field":"t","type":"quantitative","scale":{"domain":[0,3800],"nice":false,"zero":false}},
 "y":{"field":"v","type":"quantitative","scale":{"domain":[2.08,123.02],"nice":false,"zero":false}},
 "color":{"field":"s","type":"nominal","scale":{"domain":["m","p","e","o"],"range":["#ff0000","#000000","#19e619","#0a14f0"]},"legend":null}}},
{"data":{"name":"uline"},"mark":{"type":"rule","color":"#ff3030","strokeWidth":1.2,"strokeDash":[2,2]},
 "encoding":{"x":{"field":"t","type":"quantitative","scale":{"domain":[0,3800],"nice":false,"zero":false}},"x2":{"field":"t2"},
 "y":{"field":"v","type":"quantitative","scale":{"domain":[2.08,123.02],"nice":false,"zero":false}}}},
{"data":{"name":"arrows"},"mark":{"type":"rule","strokeWidth":1.6},
 "encoding":{"x":{"field":"t","type":"quantitative","scale":{"domain":[0,3800],"nice":false,"zero":false}},"x2":{"field":"t2"},
 "y":{"field":"v","type":"quantitative","scale":{"domain":[2.08,123.02],"nice":false,"zero":false}},"y2":{"field":"v2"},
 "color":{"field":"id","type":"nominal","scale":{"domain":["mach","sig1","sig2","prot","etir","ouv"],"range":["#ff2020","#111111","#111111","#111111","#1f9e6a","#2490d0"]},"legend":null}}},
{"data":{"name":"arrows"},"mark":{"type":"point","shape":"triangle-up","filled":true,"size":90,"opacity":1},
 "encoding":{"x":{"field":"t2","type":"quantitative","scale":{"domain":[0,3800],"nice":false,"zero":false}},
 "y":{"field":"v2","type":"quantitative","scale":{"domain":[2.08,123.02],"nice":false,"zero":false}},
 "angle":{"field":"a","type":"quantitative","scale":null},
 "color":{"field":"id","type":"nominal","scale":{"domain":["mach","sig1","sig2","prot","etir","ouv"],"range":["#ff2020","#111111","#111111","#111111","#1f9e6a","#2490d0"]},"legend":null}}},
{"data":{"name":"labels"},"transform":[{"filter":"datum.id!=='sig'"}],"mark":{"type":"text","font":"Liberation Serif","fontSize":30,"fontWeight":"bold","align":"center","baseline":"middle"},
 "encoding":{"x":{"field":"t","type":"quantitative","scale":{"domain":[0,3800],"nice":false,"zero":false}},
 "y":{"field":"v","type":"quantitative","scale":{"domain":[2.08,123.02],"nice":false,"zero":false}},
 "text":{"field":"text"},
 "color":{"field":"id","type":"nominal","scale":{"domain":["mach","prot","etir","ouv"],"range":["#ff1a1a","#101030","#21a86e","#1e90d6"]},"legend":null}}},
{"data":{"name":"labels"},"transform":[{"filter":"datum.id==='sig'"}],"mark":{"type":"text","font":"Liberation Serif","fontSize":31,"fontWeight":"bold","fontStyle":"italic","align":"center","baseline":"middle","color":"#111"},
 "encoding":{"x":{"field":"t","type":"quantitative","scale":{"domain":[0,3800],"nice":false,"zero":false}},
 "y":{"field":"v","type":"quantitative","scale":{"domain":[2.08,123.02],"nice":false,"zero":false}},
 "text":{"field":"text"}}},
{"data":{"name":"bubbles"},"mark":{"type":"rect","fill":"white","stroke":"#222","strokeWidth":1.2,"cornerRadius":20},
 "encoding":{"x":{"field":"t","type":"quantitative","scale":{"domain":[0,3800],"nice":false,"zero":false}},"x2":{"field":"t2"},
 "y":{"field":"v","type":"quantitative","scale":{"domain":[2.08,123.02],"nice":false,"zero":false}},"y2":{"field":"v2"}}},
{"data":{"name":"gaps"},"mark":{"type":"rule","color":"white","strokeWidth":3},
 "encoding":{"x":{"field":"t","type":"quantitative","scale":{"domain":[0,3800],"nice":false,"zero":false}},"x2":{"field":"t2"},
 "y":{"field":"v","type":"quantitative","scale":{"domain":[2.08,123.02],"nice":false,"zero":false}}}},
{"data":{"name":"tails"},"mark":{"type":"line","color":"#222","strokeWidth":1.2},
 "encoding":{"x":{"field":"t","type":"quantitative","scale":{"domain":[0,3800],"nice":false,"zero":false}},
 "y":{"field":"v","type":"quantitative","scale":{"domain":[2.08,123.02],"nice":false,"zero":false}},
 "detail":{"field":"id"},"order":{"field":"o","type":"quantitative"}}},
{"data":{"name":"btext"},"mark":{"type":"text","font":"Liberation Serif","fontSize":21,"lineHeight":24.5,"lineBreak":"\n","align":"center","baseline":"middle","color":"#151515"},
 "encoding":{"x":{"field":"t","type":"quantitative","scale":{"domain":[0,3800],"nice":false,"zero":false}},
 "y":{"field":"v","type":"quantitative","scale":{"domain":[2.08,123.02],"nice":false,"zero":false}},
 "text":{"field":"text"}}},
{"data":{"name":"phon"},"mark":{"type":"text","font":"Liberation Serif","fontSize":33,"align":"center","baseline":"alphabetic","color":"#111"},
 "encoding":{"x":{"field":"t","type":"quantitative","scale":{"domain":[0,3800],"nice":false,"zero":false}},
 "y":{"datum":123.74,"type":"quantitative","scale":{"domain":[2.08,123.02],"nice":false,"zero":false}},
 "text":{"field":"text"}}},
{"data":{"name":"legendbox"},"mark":{"type":"rect","fill":"white","stroke":"#222","strokeWidth":1.2},
 "encoding":{"x":{"field":"t","type":"quantitative","scale":{"domain":[0,3800],"nice":false,"zero":false}},"x2":{"field":"t2"},
 "y":{"field":"v","type":"quantitative","scale":{"domain":[2.08,123.02],"nice":false,"zero":false}},"y2":{"field":"v2"}}},
{"data":{"name":"legendlines"},"mark":{"type":"rule","color":"#000","strokeWidth":4},
 "encoding":{"x":{"field":"t","type":"quantitative","scale":{"domain":[0,3800],"nice":false,"zero":false}},"x2":{"field":"t2"},
 "y":{"field":"v","type":"quantitative","scale":{"domain":[2.08,123.02],"nice":false,"zero":false}}}},
{"data":{"name":"legendlines"},"transform":[{"filter":"datum.id==='s'"}],"mark":{"type":"rule","color":"#000","strokeWidth":20,"strokeDash":[2,8],"strokeCap":"butt"},
 "encoding":{"x":{"field":"t","type":"quantitative","scale":{"domain":[0,3800],"nice":false,"zero":false}},"x2":{"field":"t2"},
 "y":{"field":"v","type":"quantitative","scale":{"domain":[2.08,123.02],"nice":false,"zero":false}}}},
{"data":{"name":"legendtext"},"mark":{"type":"text","font":"Liberation Serif","fontSize":24,"align":"left","baseline":"middle","color":"#111"},
 "encoding":{"x":{"field":"t","type":"quantitative","scale":{"domain":[0,3800],"nice":false,"zero":false}},
 "y":{"field":"v","type":"quantitative","scale":{"domain":[2.08,123.02],"nice":false,"zero":false}},
 "text":{"field":"text"}}}
]
}
